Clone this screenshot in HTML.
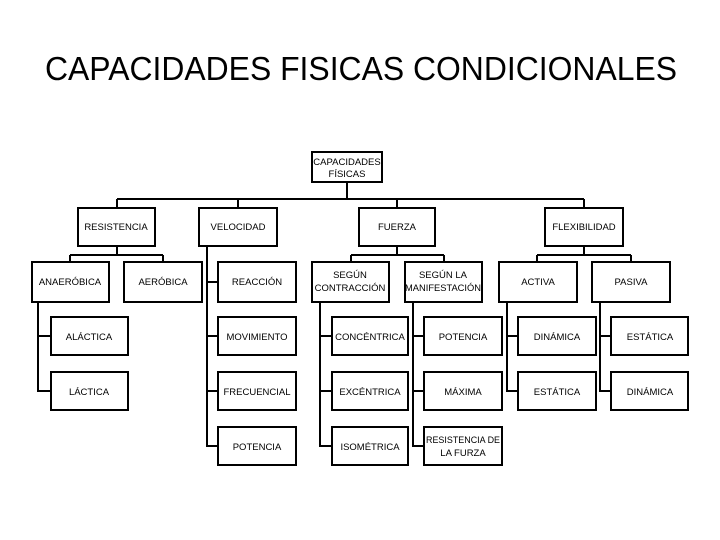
<!DOCTYPE html>
<html><head><meta charset="utf-8"><style>
html,body{margin:0;padding:0;background:#fff;width:720px;height:540px;overflow:hidden}
</style></head><body>
<svg width="720" height="540" xmlns="http://www.w3.org/2000/svg" font-family="'Liberation Sans', sans-serif">
<text x="361" y="80" font-size="33" text-anchor="middle" textLength="632" lengthAdjust="spacingAndGlyphs">CAPACIDADES FISICAS CONDICIONALES</text>
<g stroke="#000" stroke-width="2" fill="none">
<path d="M347 182V199M117 199H584M117 199V208M238 199V208M397 199V208M584 199V208"/>
<path d="M117 246V255M70 255H163M70 255V262M163 255V262"/>
<path d="M397 246V255M351 255H444M351 255V262M444 255V262"/>
<path d="M584 246V255M537 255H631M537 255V262M631 255V262"/>
<path d="M38 302V391H51M38 336H51"/>
<path d="M207 246V446H218M207 282H218M207 336H218M207 391H218"/>
<path d="M320 302V446H332M320 336H332M320 391H332"/>
<path d="M413 302V446H424M413 336H424M413 391H424"/>
<path d="M507 302V391H518M507 336H518"/>
<path d="M600 302V391H611M600 336H611"/>
</g>
<g stroke="#000" stroke-width="2" fill="#fff">
<rect x="312" y="152" width="70" height="30"/>
<rect x="78" y="208" width="77" height="38"/>
<rect x="199" y="208" width="78" height="38"/>
<rect x="359" y="208" width="76" height="38"/>
<rect x="545" y="208" width="78" height="38"/>
<rect x="32" y="262" width="77" height="40"/>
<rect x="124" y="262" width="78" height="40"/>
<rect x="218" y="262" width="78" height="40"/>
<rect x="312" y="262" width="77" height="40"/>
<rect x="405" y="262" width="77" height="40"/>
<rect x="499" y="262" width="78" height="40"/>
<rect x="592" y="262" width="78" height="40"/>
<rect x="51" y="317" width="77" height="38"/>
<rect x="51" y="372" width="77" height="38"/>
<rect x="218" y="317" width="78" height="38"/>
<rect x="218" y="372" width="78" height="38"/>
<rect x="218" y="427" width="78" height="38"/>
<rect x="332" y="317" width="76" height="38"/>
<rect x="332" y="372" width="76" height="38"/>
<rect x="332" y="427" width="76" height="38"/>
<rect x="424" y="317" width="78" height="38"/>
<rect x="424" y="372" width="78" height="38"/>
<rect x="424" y="427" width="78" height="38"/>
<rect x="518" y="317" width="78" height="38"/>
<rect x="518" y="372" width="78" height="38"/>
<rect x="611" y="317" width="77" height="38"/>
<rect x="611" y="372" width="77" height="38"/>
</g>
<g font-size="9.5" text-anchor="middle" fill="#000">
<text x="347" y="165">CAPACIDADES</text><text x="347" y="177">FÍSICAS</text>
<text x="116" y="230">RESISTENCIA</text>
<text x="238" y="230">VELOCIDAD</text>
<text x="397" y="230">FUERZA</text>
<text x="584" y="230">FLEXIBILIDAD</text>
<text x="70" y="285">ANAERÓBICA</text>
<text x="163" y="285">AERÓBICA</text>
<text x="257" y="285">REACCIÓN</text>
<text x="350" y="278">SEGÚN</text><text x="350" y="291">CONTRACCIÓN</text>
<text x="443" y="278">SEGÚN  LA</text><text x="443" y="291" textLength="76" lengthAdjust="spacingAndGlyphs">MANIFESTACIÓN</text>
<text x="538" y="285">ACTIVA</text>
<text x="631" y="285">PASIVA</text>
<text x="89" y="340">ALÁCTICA</text>
<text x="89" y="395">LÁCTICA</text>
<text x="257" y="340">MOVIMIENTO</text>
<text x="257" y="395">FRECUENCIAL</text>
<text x="257" y="450">POTENCIA</text>
<text x="370" y="340">CONCÉNTRICA</text>
<text x="370" y="395">EXCÉNTRICA</text>
<text x="370" y="450">ISOMÉTRICA</text>
<text x="463" y="340">POTENCIA</text>
<text x="463" y="395">MÁXIMA</text>
<text x="463" y="443" textLength="74" lengthAdjust="spacingAndGlyphs">RESISTENCIA DE</text><text x="463" y="456">LA FURZA</text>
<text x="557" y="340">DINÁMICA</text>
<text x="557" y="395">ESTÁTICA</text>
<text x="650" y="340">ESTÁTICA</text>
<text x="650" y="395">DINÁMICA</text>
</g>
</svg>
</body></html>
